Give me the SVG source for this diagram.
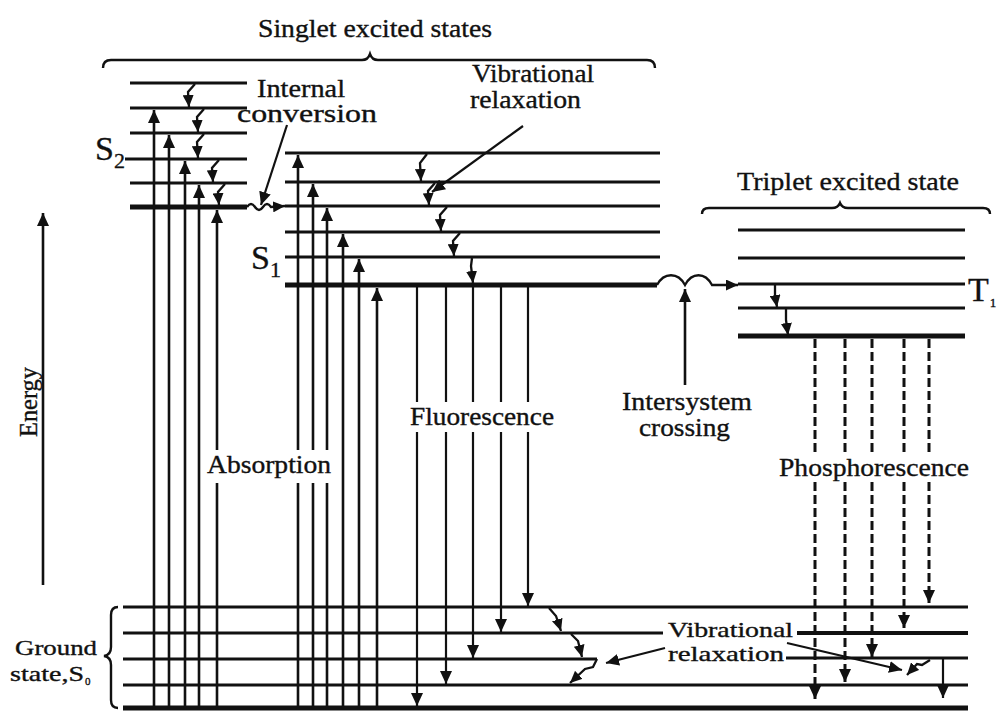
<svg xmlns="http://www.w3.org/2000/svg" width="1001" height="712" viewBox="0 0 1001 712">
<style>
.t{font-family:"Liberation Serif","Times New Roman",serif;fill:#111;stroke:#111;stroke-width:0.35;font-size:25px;}
.s{font-size:21px;}
.lv{stroke:#111;stroke-width:2.8;fill:none;}
.lvk{stroke:#111;stroke-width:5;fill:none;}
.up{stroke:#111;stroke-width:2.6;fill:none;marker-end:url(#ah);}
.dn{stroke:#111;stroke-width:2.2;fill:none;marker-end:url(#ah);}
.rx{stroke:#111;stroke-width:2.3;fill:none;marker-end:url(#ahs);}
.ds{stroke:#111;stroke-width:3;fill:none;stroke-dasharray:9 4;marker-end:url(#ah);}
.br{stroke:#111;stroke-width:2.4;fill:none;}
</style>
<defs>
<marker id="ah" viewBox="0 0 13 12" refX="13" refY="6" markerWidth="13" markerHeight="12" markerUnits="userSpaceOnUse" orient="auto"><path d="M0,0 L13,6 L0,12 z" fill="#111"/></marker>
<marker id="ahs" viewBox="0 0 12 11" refX="12" refY="5.5" markerWidth="12" markerHeight="11" markerUnits="userSpaceOnUse" orient="auto"><path d="M0,0 L12,5.5 L0,11 z" fill="#111"/></marker>
</defs>
<rect width="1001" height="712" fill="#fff"/>

<g id="singlet-brace">
<path class="br" d="M103,68 Q103,60 111,60 L362,60 Q368,60 370,54 Q372,60 378,60 L647,60 Q655,60 655,68"/>
<text class="t" x="258" y="37" textLength="234" lengthAdjust="spacingAndGlyphs">Singlet excited states</text>
</g>

<g id="triplet-brace">
<path class="br" d="M702,214 Q702,208 709,208 L832,208 Q838,208 840,203 Q842,208 848,208 L983,208 Q990,208 990,214"/>
<text class="t" x="737" y="190" textLength="222" lengthAdjust="spacingAndGlyphs">Triplet excited state</text>
</g>

<g id="energy-axis">
<path class="up" d="M43,585 L43,213"/>
<text class="t" transform="translate(37,437) rotate(-90)" textLength="70" lengthAdjust="spacingAndGlyphs">Energy</text>
</g>

<g id="S2">
<path class="lv" d="M130,83 H247 M130,108 H247 M130,133 H247 M125,159 H247 M130,183 H247"/>
<path class="lvk" d="M130,207 H247"/>
<text class="t" x="95" y="160" style="font-size:34px">S<tspan style="font-size:22px" dy="8">2</tspan></text>
</g>

<g id="S1">
<path class="lv" d="M285,153 H660 M285,182 H660 M285,206 H660 M285,232 H660 M285,257 H660"/>
<path class="lvk" d="M285,285 H657"/>
<text class="t" x="251" y="269" style="font-size:34px">S<tspan style="font-size:22px" dy="8">1</tspan></text>
</g>

<g id="T1">
<path class="lv" d="M738,230 H965 M738,258 H965 M738,284 H965 M738,308 H965"/>
<path class="lvk" d="M738,336 H965"/>
<text class="t" x="968" y="301" style="font-size:34px">T<tspan style="font-size:13px" dx="1" dy="6">1</tspan></text>
</g>

<g id="S0">
<path class="lv" d="M123,607 H968 M123,633 H663 M123,659 H597 M786,658 H968 M123,685 H968"/>
<path class="lv" style="stroke-width:4.2" d="M797,633 H968"/>
<path class="lvk" d="M123,708 H968"/>
<path class="br" d="M118,607 Q111,607 111,615 L111,647 Q111,655 104,656 Q111,657 111,665 L111,700 Q111,708 118,708"/>
<text class="t s" x="15" y="655" textLength="82" lengthAdjust="spacingAndGlyphs">Ground</text>
<text class="t s" x="10" y="681" textLength="74" lengthAdjust="spacingAndGlyphs">state,S</text>
<text class="t" x="85" y="685" style="font-size:11px">0</text>
</g>

<g id="connectors">
<path class="up" d="M154,710 V110"/>
<path class="up" d="M169,710 V135"/>
<path class="up" d="M185,710 V161"/>
<path class="up" d="M199,710 V185"/>
<path class="up" d="M217,710 V210"/>
<path class="up" d="M298,710 V155"/>
<path class="up" d="M313,710 V184"/>
<path class="up" d="M327,710 V208"/>
<path class="up" d="M343,710 V234"/>
<path class="up" d="M359,710 V259"/>
<path class="up" d="M377,710 V288"/>
<path class="rx" d="M195,84 L188,92 L189,107"/>
<path class="rx" d="M204,109 L197,117 L198,132"/>
<path class="rx" d="M204,134 L197,142 L198,158"/>
<path class="rx" d="M219,160 L212,168 L213,182"/>
<path class="rx" d="M225,184 L218,192 L219,205"/>
<path class="rx" d="M247,207 q4,-6 8,0 q4,6 8,0 q4,-6 8,0 L285,206"/>
<path class="dn" d="M287,125 L261,205"/>
<path class="rx" d="M427,154 L420,163 L421,181"/>
<path class="rx" d="M435,183 L428,191 L429,205"/>
<path class="rx" d="M447,207 L440,215 L441,231"/>
<path class="rx" d="M460,233 L453,241 L454,256"/>
<path class="rx" d="M472,258 L471,266 L473,283"/>
<path class="dn" d="M523,126 L432,192"/>
<path class="dn" d="M417,287 V706"/>
<path class="dn" d="M446,287 V684"/>
<path class="dn" d="M473,287 V658"/>
<path class="dn" d="M501,287 V632"/>
<path class="dn" d="M528,287 V606"/>
<path class="rx" d="M657,285 C664,272 678,272 685,285 C692,272 705,272 712,285 L738,285"/>
<path class="up" d="M685,385 V289"/>
<path class="rx" d="M775,285 L775,295 L777,307"/>
<path class="rx" d="M786,309 L786,320 L788,335"/>
<path class="ds" d="M815,339 V699"/>
<path class="ds" d="M845,339 V682"/>
<path class="ds" d="M872,339 V657"/>
<path class="ds" d="M904,339 V628"/>
<path class="ds" d="M929,339 V603"/>
<path class="rx" d="M549,608 L556,616 L561,631"/>
<path class="rx" d="M571,634 L578,641 L582,657"/>
<path class="rx" d="M597,659 L593,667 L585,669 L570,683"/>
<path class="dn" d="M665,648 L606,663"/>
<path class="dn" d="M787,643 L902,670"/>
<path class="rx" d="M930,660 L922,665 L917,664 L907,675"/>
<path class="dn" d="M943,659 V698"/>
</g>

<g id="labels">
<text class="t" x="257" y="97" textLength="88" lengthAdjust="spacingAndGlyphs">Internal</text>
<text class="t" x="237" y="122" textLength="140" lengthAdjust="spacingAndGlyphs">conversion</text>
<text class="t" x="472" y="82" textLength="122" lengthAdjust="spacingAndGlyphs">Vibrational</text>
<text class="t" x="470" y="108" textLength="111" lengthAdjust="spacingAndGlyphs">relaxation</text>
<rect x="407" y="402" width="150" height="30" fill="#fff"/>
<text class="t" x="410" y="425" textLength="144" lengthAdjust="spacingAndGlyphs">Fluorescence</text>
<rect x="204" y="450" width="130" height="33" fill="#fff"/>
<text class="t" x="207" y="473" textLength="124" lengthAdjust="spacingAndGlyphs">Absorption</text>
<text class="t" x="622" y="410" textLength="130" lengthAdjust="spacingAndGlyphs">Intersystem</text>
<text class="t" x="639" y="436" textLength="91" lengthAdjust="spacingAndGlyphs">crossing</text>
<rect x="776" y="454" width="196" height="28" fill="#fff"/>
<text class="t" x="779" y="476" textLength="190" lengthAdjust="spacingAndGlyphs">Phosphorescence</text>
<text class="t s" x="668" y="637" textLength="125" lengthAdjust="spacingAndGlyphs">Vibrational</text>
<text class="t s" x="668" y="661" textLength="116" lengthAdjust="spacingAndGlyphs">relaxation</text>
</g>
</svg>
